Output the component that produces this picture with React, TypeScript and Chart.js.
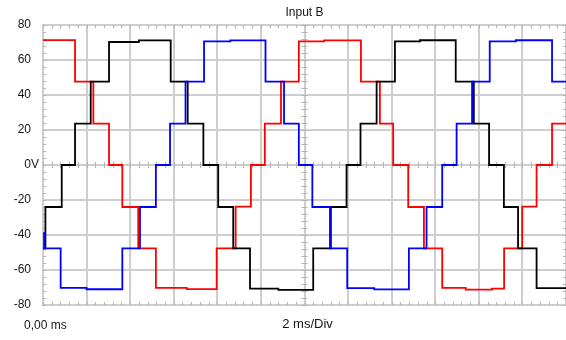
import React, { useEffect, useRef } from "react";
import { Chart, registerables } from "chart.js";

Chart.register(...registerables);

// Time axis in ms (12 divisions of 2 ms), voltage in V.
const X_MIN = 0;
const X_MAX = 24;
const X_DIV = 2;
const Y_MIN = -80;
const Y_MAX = 80;
const Y_DIV = 20;

const titleText = "Input B";
const startLabel = "0,00 ms";
const divLabel = "2 ms/Div";
const yTickValues = [80, 60, 40, 20, 0, -20, -40, -60, -80];
const yTickLabels = ["80", "60", "40", "20", "0V", "-20", "-40", "-60", "-80"];

// Each phase: switching instants (ms) and the level held from that instant on.
const redTimes = [0, 1.47, 2.31, 3.03, 3.64, 4.37, 5.18, 6.6, 7.97, 8.84, 9.54, 10.18, 10.92, 11.74, 12.9, 14.59, 15.46, 16.07, 16.76, 17.48, 18.32, 19.4, 20.6, 21.16, 21.99, 22.65, 23.36, 24];
const redLevels = [71.4, 47.6, 23.6, 0, -24, -47.6, -70.2, -70.9, -47.6, -23.8, 0, 23.6, 47.6, 70.6, 71.2, 47.6, 23.6, 0, -24, -47.6, -70.2, -71.2, -70.6, -47.6, -23.8, 0, 23.6, 23.6];

const blackTimes = [0, 0.11, 0.86, 1.47, 2.19, 3.03, 4.4, 5.86, 6.64, 7.36, 8.04, 8.73, 9.5, 10.8, 12.4, 13.21, 13.93, 14.57, 15.31, 16.15, 17.3, 18.94, 19.77, 20.47, 21.15, 21.8, 22.65, 24];
const blackLevels = [-47.6, -24, 0, 23.6, 47.6, 70.3, 71.2, 47.6, 23.6, 0, -24, -47.6, -70.6, -71.3, -47.6, -24, 0, 23.6, 47.6, 70.6, 71.3, 47.6, 23.6, 0, -24, -47.6, -70.4, -70.8];

const blueTimes = [0, 0.05, 0.81, 2.0, 3.64, 4.45, 5.18, 5.83, 6.54, 7.39, 8.6, 10.21, 11.06, 11.74, 12.36, 13.17, 13.96, 15.2, 16.79, 17.6, 18.32, 18.98, 19.69, 20.5, 21.7, 23.36, 24];
const blueLevels = [-39, -47.6, -70.2, -71.0, -47.6, -24, 0, 23.6, 47.6, 70.6, 71.2, 47.6, 23.6, 0, -24, -47.6, -70.4, -71.1, -47.6, -24, 0, 23.6, 47.6, 70.6, 71.3, 47.6, 47.6];

const toPoints = (times: number[], levels: number[]) =>
  times.map((t, i) => ({ x: t, y: levels[i] }));

const FONT = '"Liberation Sans", Arial, sans-serif';
const GRID = "#cecece";
const TICK = "#b4b4b4";

// Short graticule marks at fifths of a division on the frame and centre lines.
const graticulePlugin = {
  id: "graticule",
  beforeDatasetsDraw(chart: any) {
    const { ctx, chartArea: a, scales } = chart;
    const xs = scales.x;
    const ys = scales.y;
    const L = 3;
    const xc = xs.getPixelForValue((X_MIN + X_MAX) / 2);
    const yc = ys.getPixelForValue(0);
    ctx.save();
    ctx.strokeStyle = TICK;
    ctx.lineWidth = 1;
    ctx.beginPath();
    const xStep = X_DIV / 5;
    for (let i = 0; X_MIN + i * xStep <= X_MAX + 1e-9; i++) {
      const px = Math.round(xs.getPixelForValue(X_MIN + i * xStep)) + 0.5;
      ctx.moveTo(px, a.top);
      ctx.lineTo(px, a.top + L);
      ctx.moveTo(px, a.bottom);
      ctx.lineTo(px, a.bottom - L);
      ctx.moveTo(px, yc - L);
      ctx.lineTo(px, yc + L);
    }
    const yStep = Y_DIV / 5;
    for (let i = 0; Y_MIN + i * yStep <= Y_MAX + 1e-9; i++) {
      const py = Math.round(ys.getPixelForValue(Y_MIN + i * yStep)) + 0.5;
      ctx.moveTo(a.left, py);
      ctx.lineTo(a.left + L, py);
      ctx.moveTo(a.right, py);
      ctx.lineTo(a.right - L, py);
      ctx.moveTo(xc - L, py);
      ctx.lineTo(xc + L, py);
    }
    ctx.stroke();
    ctx.restore();
  },
  afterDraw(chart: any) {
    const { ctx, chartArea: a, scales } = chart;
    const ys = scales.y;
    const xc = scales.x.getPixelForValue((X_MIN + X_MAX) / 2);
    ctx.save();
    ctx.fillStyle = "#161616";
    ctx.font = `12px ${FONT}`;
    ctx.textBaseline = "middle";
    const labelRight = a.left - 12;
    yTickValues.forEach((v, i) => {
      const label = yTickLabels[i];
      const num = label.replace(/V$/, "");
      const py = ys.getPixelForValue(v);
      ctx.textAlign = "right";
      ctx.fillText(num, labelRight, py);
      if (num !== label) {
        ctx.textAlign = "left";
        ctx.fillText(label.slice(num.length), labelRight, py);
      }
    });
    ctx.textBaseline = "alphabetic";
    ctx.textAlign = "center";
    ctx.fillText(titleText, xc, 16);
    ctx.textAlign = "left";
    ctx.fillText(startLabel, 24, 329);
    ctx.textAlign = "center";
    ctx.font = `13px ${FONT}`;
    ctx.fillText(divLabel, xc + 3, 328);
    ctx.restore();
  },
};

export default function App() {
  const canvasRef = useRef<HTMLCanvasElement | null>(null);

  useEffect(() => {
    const canvas = canvasRef.current;
    if (!canvas) return;
    const line = (label: string, color: string, times: number[], levels: number[]) => ({
      label,
      data: toPoints(times, levels),
      borderColor: color,
      backgroundColor: color,
      borderWidth: 1.8,
      pointRadius: 0,
      stepped: true as const,
      fill: false,
    });
    const chart = new Chart(canvas, {
      type: "line",
      data: {
        datasets: [
          line("Phase 3", "#0000ff", blueTimes, blueLevels),
          line("Phase 2", "#000000", blackTimes, blackLevels),
          line("Phase 1", "#ff0000", redTimes, redLevels),
        ],
      },
      options: {
        animation: false,
        responsive: false,
        devicePixelRatio: 1,
        layout: { padding: { left: 43, top: 25, right: 0, bottom: 35 } },
        plugins: {
          legend: { display: false },
          tooltip: { enabled: false },
          title: { display: false },
        },
        scales: {
          x: {
            type: "linear",
            min: X_MIN,
            max: X_MAX,
            ticks: { display: false, stepSize: X_DIV },
            grid: { color: GRID, lineWidth: 2, drawTicks: false },
            border: { display: true, color: GRID, width: 2 },
          },
          y: {
            type: "linear",
            min: Y_MIN,
            max: Y_MAX,
            ticks: { display: false, stepSize: Y_DIV },
            grid: { color: GRID, lineWidth: 2, drawTicks: false },
            border: { display: true, color: GRID, width: 2 },
          },
        },
      },
      plugins: [graticulePlugin],
    });
    return () => chart.destroy();
  }, []);

  return (
    <div style={{ position: "fixed", left: 0, top: 0, width: 566, height: 340, background: "#fff" }}>
      <canvas ref={canvasRef} width={566} height={340} style={{ display: "block", width: 566, height: 340 }} />
    </div>
  );
}
